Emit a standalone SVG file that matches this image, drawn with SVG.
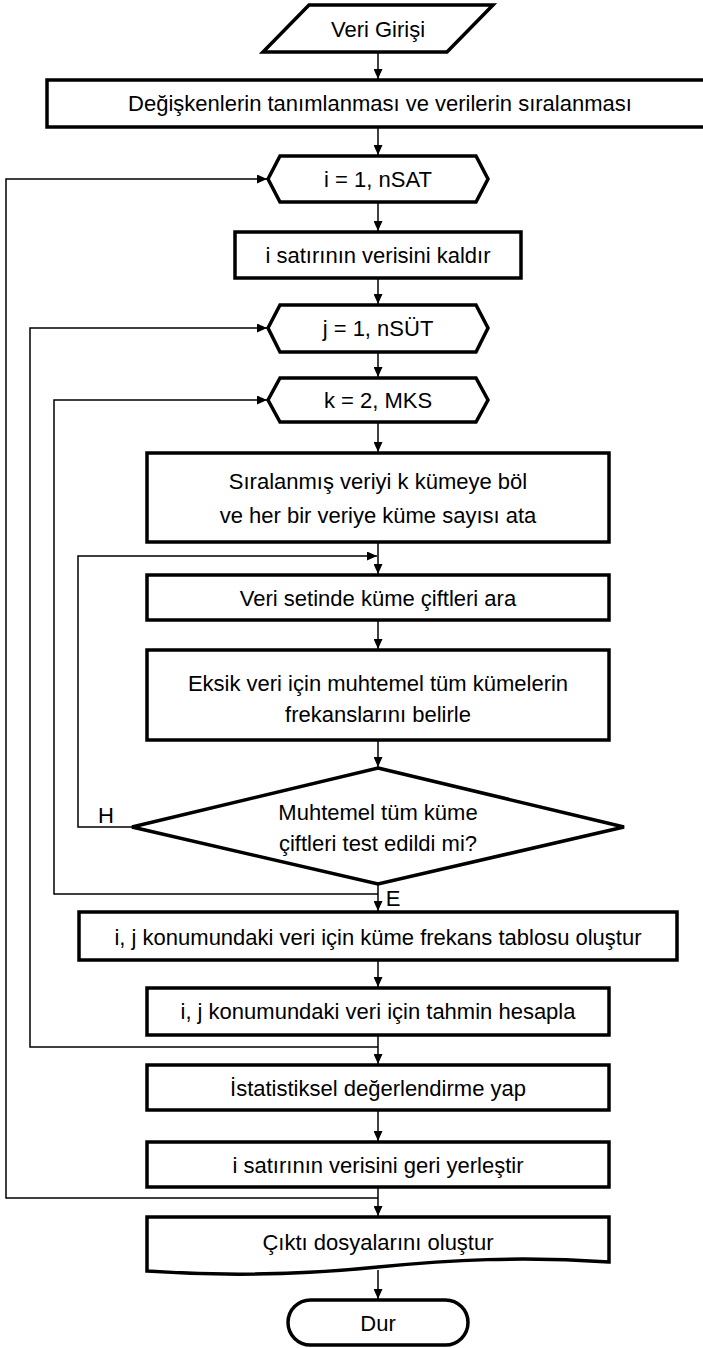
<svg xmlns="http://www.w3.org/2000/svg" width="703" height="1348" viewBox="0 0 703 1348">
<defs>
<marker id="ah" markerUnits="userSpaceOnUse" markerWidth="10" markerHeight="9" refX="10" refY="4.5" orient="auto">
<path d="M0,0 L10,4.5 L0,9 Z" fill="#000"/>
</marker>
<style>
.n{fill:#fff;stroke:#000;stroke-width:3.5;stroke-linejoin:miter}
.c{fill:none;stroke:#000;stroke-width:1.5}
.a{marker-end:url(#ah)}
text{font-family:"Liberation Sans",Arial,sans-serif;font-size:22px;fill:#000;text-anchor:middle;dominant-baseline:central}
</style>
</defs>
<rect width="703" height="1348" fill="#fff"/>
<g id="connectors">
<line class="c a" x1="378" y1="52" x2="378" y2="79"/>
<line class="c a" x1="378" y1="127" x2="378" y2="155"/>
<line class="c a" x1="378" y1="202" x2="378" y2="231"/>
<line class="c a" x1="378" y1="278" x2="378" y2="304"/>
<line class="c a" x1="378" y1="352" x2="378" y2="377"/>
<line class="c a" x1="378" y1="422" x2="378" y2="452"/>
<line class="c a" x1="378" y1="542" x2="378" y2="574"/>
<polyline class="c a" points="132,827 78,827 78,556 377,556"/>
<line class="c a" x1="378" y1="620" x2="378" y2="649"/>
<line class="c a" x1="378" y1="740" x2="378" y2="767"/>
<line class="c a" x1="378" y1="884" x2="378" y2="911"/>
<polyline class="c a" points="378,894 54,894 54,400 267,400"/>
<line class="c a" x1="378" y1="960" x2="378" y2="987"/>
<line class="c a" x1="378" y1="1035" x2="378" y2="1064"/>
<polyline class="c a" points="378,1047 30,1047 30,328 267,328"/>
<line class="c a" x1="378" y1="1110" x2="378" y2="1141"/>
<line class="c a" x1="378" y1="1187" x2="378" y2="1216"/>
<polyline class="c a" points="378,1198 6,1198 6,179 267,179"/>
<line class="c a" x1="378" y1="1270" x2="378" y2="1299"/>
<text x="106" y="815">H</text>
<text x="393" y="898">E</text>
</g>
<g id="n1"><polygon class="n" points="309,5 493,5 447,52 263,52"/><text x="378" y="29">Veri Girişi</text></g>
<g id="n2"><rect class="n" x="47" y="80" width="662" height="47"/><text x="380" y="103">Değişkenlerin tanımlanması ve verilerin sıralanması</text></g>
<g id="n3"><polygon class="n" points="268,179 280,156 476,156 488,179 476,202 280,202"/><text x="378" y="179">i = 1, nSAT</text></g>
<g id="n4"><rect class="n" x="235" y="232" width="286" height="46"/><text x="378" y="255">i satırının verisini kaldır</text></g>
<g id="n5"><polygon class="n" points="268,328 280,305 476,305 488,328 476,352 280,352"/><text x="378" y="328">j = 1, nSÜT</text></g>
<g id="n6"><polygon class="n" points="268,400 280,378 476,378 488,400 476,422 280,422"/><text x="378" y="400">k = 2, MKS</text></g>
<g id="n7"><rect class="n" x="147" y="453" width="462" height="89"/><text x="378" y="481">Sıralanmış veriyi k kümeye böl</text><text x="378" y="515">ve her bir veriye küme sayısı ata</text></g>
<g id="n8"><rect class="n" x="147" y="575" width="462" height="45"/><text x="378" y="598">Veri setinde küme çiftleri ara</text></g>
<g id="n9"><rect class="n" x="147" y="650" width="462" height="90"/><text x="378" y="683">Eksik veri için muhtemel tüm kümelerin</text><text x="378" y="714">frekanslarını belirle</text></g>
<g id="n10"><polygon class="n" points="378,768 624,827 378,884 132,827"/><text x="378" y="812">Muhtemel tüm küme</text><text x="378" y="843">çiftleri test edildi mi?</text></g>
<g id="n11"><rect class="n" x="79" y="912" width="598" height="48"/><text x="378" y="937">i, j konumundaki veri için küme frekans tablosu oluştur</text></g>
<g id="n12"><rect class="n" x="147" y="988" width="462" height="47"/><text x="378" y="1011">i, j konumundaki veri için tahmin hesapla</text></g>
<g id="n13"><rect class="n" x="147" y="1065" width="462" height="45"/><text x="378" y="1088">İstatistiksel değerlendirme yap</text></g>
<g id="n14"><rect class="n" x="147" y="1142" width="462" height="45"/><text x="378" y="1165">i satırının verisini geri yerleştir</text></g>
<g id="n15"><path class="n" d="M147,1217 H609 V1262 C520,1256 450,1260 378,1267 C300,1275 220,1276 147,1271 Z"/><text x="378" y="1242">Çıktı dosyalarını oluştur</text></g>
<g id="n16"><rect class="n" x="288" y="1300" width="180" height="45" rx="22.5"/><text x="378" y="1323">Dur</text></g>
</svg>
